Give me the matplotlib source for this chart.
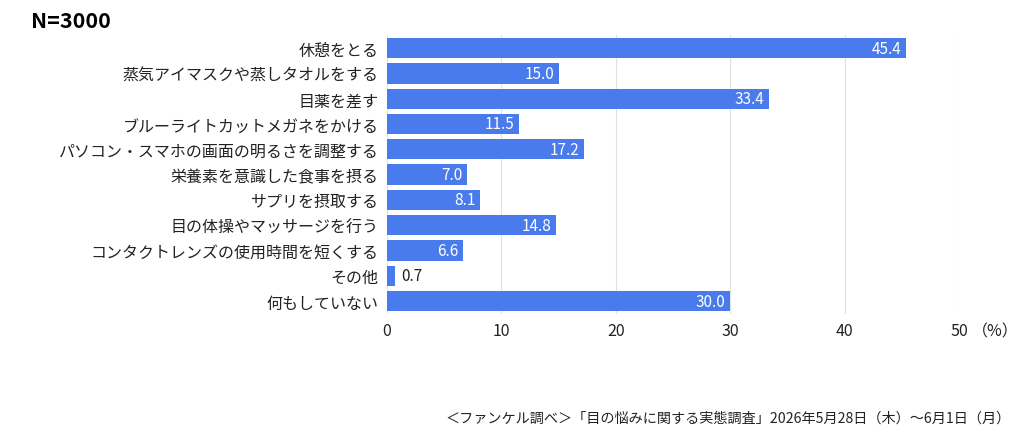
import matplotlib

matplotlib.use("Agg")

import matplotlib.pyplot as plt
import numpy as np

plt.rcParams["font.family"] = ["Noto Sans CJK JP", "DejaVu Sans"]

categories = [
    "休憩をとる",
    "蒸気アイマスクや蒸しタオルをする",
    "目薬を差す",
    "ブルーライトカットメガネをかける",
    "パソコン・スマホの画面の明るさを調整する",
    "栄養素を意識した食事を摂る",
    "サプリを摂取する",
    "目の体操やマッサージを行う",
    "コンタクトレンズの使用時間を短くする",
    "その他",
    "何もしていない",
]
values = [45.4, 15.0, 33.4, 11.5, 17.2, 7.0, 8.1, 14.8, 6.6, 0.7, 30.0]
x_ticks = [0, 10, 20, 30, 40, 50]

bar_color = "#4a7bec"

fig = plt.figure(figsize=(10.24, 4.39), dpi=100)
ax = fig.add_axes([0.378, 0.283, 0.5585, 0.634])

y = np.arange(len(categories))
ax.barh(y, values, height=0.8, color=bar_color, zorder=3)
ax.set_ylim(len(categories) - 0.5, -0.5)
ax.set_xlim(0, 50)

for yi, v in zip(y, values):
    if v >= 3:
        ax.text(v - 0.4, yi, f"{v:.1f}", ha="right", va="center",
                color="white", fontsize=11, zorder=4)
    else:
        ax.text(v + 0.5, yi, f"{v:.1f}", ha="left", va="center",
                color="#222222", fontsize=11, zorder=4)

ax.set_yticks(y)
ax.set_yticklabels(categories, fontsize=11.5, color="#222222")
ax.set_xticks(x_ticks)
ax.set_xticklabels([str(t) for t in x_ticks], fontsize=11.5, color="#222222")
ax.annotate("（%）", xy=(50, 0), xycoords=ax.get_xaxis_transform(),
            xytext=(9, -6), textcoords="offset points", ha="left", va="top",
            fontsize=11.5, color="#222222")
ax.tick_params(length=0, pad=6)
ax.grid(axis="x", color="#e2e2e2", linewidth=0.8, zorder=0)
for s in ax.spines.values():
    s.set_visible(False)

fig.text(0.03, 0.95, "N=3000", fontsize=15.5, fontweight="bold", va="center", ha="left")
fig.text(0.987, 0.047, "＜ファンケル調べ＞「目の悩みに関する実態調査」2026年5月28日（木）～6月1日（月）",
         fontsize=10.2, ha="right", va="center", color="#222222")

fig.savefig("out.png", dpi=100)
plt.close(fig)
